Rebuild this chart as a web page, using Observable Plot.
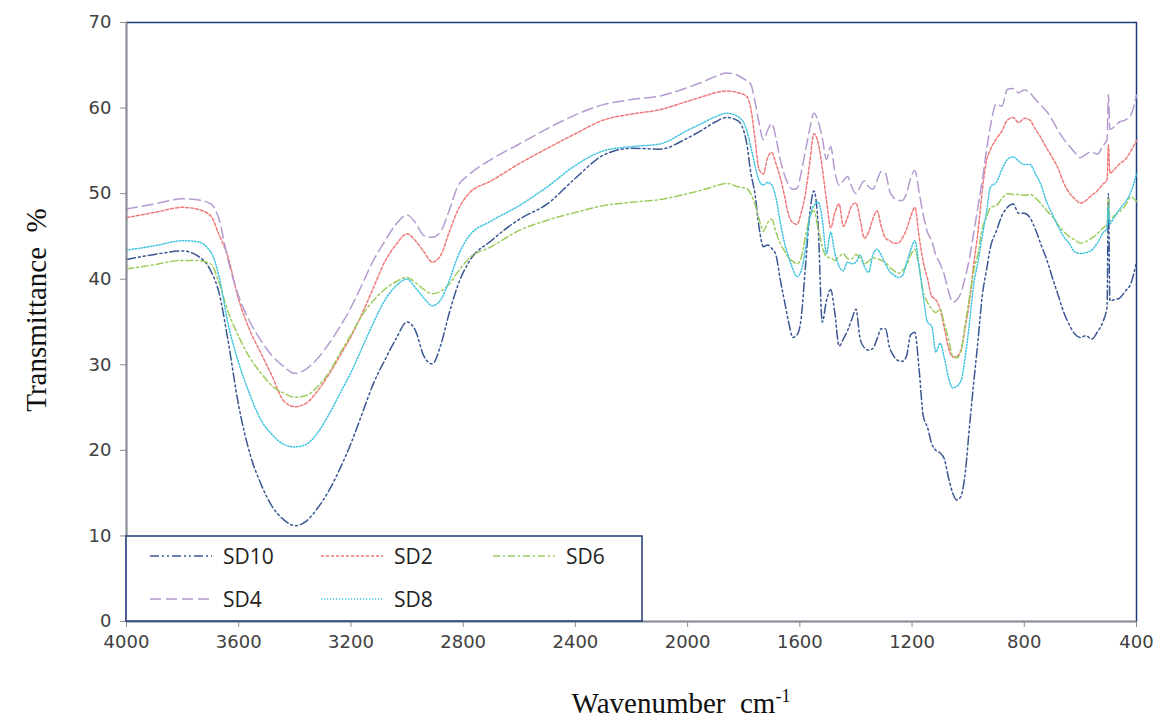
<!DOCTYPE html>
<html><head><meta charset="utf-8">
<script src="https://cdn.jsdelivr.net/npm/d3@7"></script>
<script src="https://cdn.jsdelivr.net/npm/@observablehq/plot@0.6"></script>
<style>
html,body{margin:0;padding:0;background:#fff;}
#chart{position:relative;width:1160px;height:718px;}
</style></head><body><div id="chart"></div>
<script>
const wavenumber = [4000,3900,3800,3750,3700,3670,3640,3600,3560,3520,3480,3440,3400,3360,3320,3280,3240,3200,3160,3120,3080,3040,3000,2970,2940,2910,2880,2850,2820,2780,2700,
2600,2500,2400,2300,2200,2100,2000,1950,1900,1860,1820,
1790,1775,1760,1745,1730,1715,1700,1685,1670,1655,1640,1625,1610,1595,1580,1565,1550,1535,1520,1505,1490,1475,1460,1445,1430,1415,1400,1385,1370,1355,1340,1325,1310,1295,1280,1265,1250,1235,1220,1205,1190,1175,1160,1145,1130,1115,1100,1085,1070,1055,1040,1025,1010,995,980,965,950,
935,920,900,880,860,840,820,800,780,760,740,720,700,680,660,640,620,600,580,560,540,520,505,500,495,480,460,440,420,400];

const SD10 = [42.3,42.9,43.3,42.8,41.0,38.4,33.2,25.2,19.6,16.0,13.4,11.9,11.2,11.7,13.2,15.2,17.8,20.8,24.3,27.8,30.5,33.0,35.0,34.0,31.0,30.1,32.3,36.0,39.2,42.0,44.5,
47.0,48.8,51.8,54.5,55.3,55.2,56.5,57.4,58.4,58.9,58.5,
56.0,52.5,50.0,46.0,43.8,44.0,43.6,42.8,40.0,37.5,35.0,33.2,33.5,35.5,41.5,47.5,50.3,46.5,35.0,37.5,38.8,36.0,32.2,33.0,34.0,35.3,36.5,33.0,32.0,31.7,31.9,33.0,34.2,34.2,32.0,31.0,30.5,30.4,31.0,33.5,33.8,29.5,24.0,22.7,20.8,20.0,19.7,19.0,16.8,15.0,14.2,14.7,17.5,22.9,28.0,32.8,38.0,
41.0,43.8,45.6,47.4,48.4,48.8,47.7,47.7,47.2,45.8,44.0,42.3,40.2,38.2,36.2,34.7,33.6,33.2,33.4,33.0,33.8,35.0,36.8,50.0,37.5,37.6,37.8,38.6,39.5,42.0];

const SD2 = [47.2,47.8,48.4,48.2,47.4,45.2,42.8,37.6,34.0,31.3,28.6,25.8,25.1,25.5,26.9,28.8,31.0,33.3,36.0,39.0,42.0,44.0,45.3,44.5,43.2,42.0,42.8,45.5,48.0,50.0,51.5,
53.5,55.3,57.0,58.6,59.3,59.8,60.8,61.3,61.8,62.0,61.8,
61.4,60.0,56.5,52.8,52.3,54.2,54.8,53.5,51.9,49.8,47.5,46.6,46.4,47.8,50.0,53.5,57.0,56.0,53.0,49.2,46.0,47.8,48.8,46.2,47.2,48.6,48.9,47.0,44.8,45.5,47.0,48.0,46.2,44.8,44.5,44.2,44.2,44.8,45.8,47.3,48.4,45.0,42.0,40.1,38.0,37.6,36.5,34.3,32.0,30.9,31.0,31.8,34.5,37.5,41.8,45.5,50.3,
53.8,55.2,56.4,57.3,58.6,58.9,58.3,58.8,58.6,57.5,56.5,55.3,54.2,53.0,51.3,50.1,49.4,48.9,49.2,49.8,50.3,51.1,51.6,55.7,52.4,52.8,53.5,54.0,55.0,56.2];

const SD6 = [41.2,41.7,42.2,42.2,41.8,39.6,36.4,33.3,30.8,29.0,27.5,26.7,26.2,26.4,27.4,29.0,31.3,33.5,35.8,37.5,38.8,39.7,40.2,39.6,38.8,38.3,38.6,39.4,40.8,42.4,43.8,
45.7,46.9,47.8,48.6,49.0,49.3,50.0,50.4,50.9,51.2,50.8,
50.6,50.0,48.8,47.0,45.6,46.6,47.0,45.5,44.2,43.3,42.5,42.1,41.8,42.5,45.0,47.2,48.0,46.0,43.8,42.6,42.5,42.2,42.6,43.0,42.4,42.4,42.9,42.5,41.8,42.1,42.5,42.4,42.2,42.0,41.4,41.0,40.7,41.0,41.6,42.8,43.5,41.5,38.5,37.3,36.5,36.1,36.5,34.8,33.0,31.0,30.8,31.7,34.8,38.0,41.0,43.0,45.9,
47.2,48.4,48.6,49.4,50.0,49.9,49.9,49.8,49.9,49.5,48.8,48.0,47.3,46.4,45.6,45.0,44.6,44.2,44.4,44.8,45.3,46.0,46.4,49.4,46.8,47.4,47.9,48.6,49.6,49.1];

const SD4 = [48.2,48.8,49.4,49.3,48.8,47.0,42.5,38.0,35.0,32.8,31.0,29.8,29.0,29.5,30.7,32.4,34.4,36.7,39.4,42.2,44.4,46.4,47.5,46.6,45.1,44.9,45.6,48.0,50.8,52.2,54.0,
55.8,57.6,59.2,60.4,61.0,61.4,62.4,63.0,63.7,64.1,63.8,
63.2,62.8,60.8,58.2,56.3,57.4,58.2,56.5,54.0,52.2,51.0,50.5,50.6,52.5,55.0,57.5,59.4,58.5,56.5,54.0,55.5,52.5,51.0,51.5,52.0,50.8,50.0,50.8,51.5,50.8,50.5,51.5,52.6,52.4,50.3,49.5,49.2,49.2,50.0,51.8,52.7,50.2,47.5,45.5,44.5,42.8,41.8,40.5,38.6,37.3,37.6,38.5,40.3,42.5,45.5,48.5,51.5,
55.0,58.0,60.5,60.2,62.2,62.3,61.8,62.1,61.8,61.0,60.3,59.6,58.6,57.4,56.4,55.6,54.8,54.2,54.6,54.9,54.6,55.6,56.3,61.6,57.5,57.8,58.4,58.6,59.2,61.5];

const SD8 = [43.4,43.9,44.5,44.4,43.2,40.3,35.1,30.2,26.5,23.5,21.8,20.7,20.4,20.7,22.0,24.1,26.6,29.1,32.0,34.9,37.5,39.2,40.0,39.0,37.8,36.9,37.6,39.8,42.6,45.0,46.8,
48.6,50.8,53.3,55.0,55.5,55.8,57.4,58.2,59.0,59.4,59.0,
57.5,55.5,53.3,51.5,51.0,51.3,51.0,49.5,46.7,44.3,42.6,41.2,40.3,41.0,43.5,47.2,48.6,49.0,47.0,43.0,45.5,43.0,41.5,41.0,42.0,41.8,42.0,42.8,41.5,40.8,42.8,43.5,42.8,41.8,40.9,40.5,40.2,40.4,41.8,43.4,44.5,41.5,38.0,35.0,34.5,31.5,32.5,30.8,28.5,27.3,27.5,28.2,31.0,35.0,39.5,42.0,45.0,
47.8,50.8,51.3,52.8,54.0,54.3,53.8,53.4,53.4,52.3,51.0,49.0,47.6,46.2,45.0,44.2,43.2,43.0,43.1,43.4,44.2,45.4,46.0,48.5,46.5,47.2,48.2,49.0,50.2,52.3];

const seriesNames = ["SD10", "SD2", "SD6", "SD4", "SD8"];
const seriesValues = [SD10, SD2, SD6, SD4, SD8];
const seriesColors = ["#3a5794", "#f07a7a", "#9dcc5e", "#b49bd0", "#3ec3e0"];
const seriesDash = ["9,3,2,3,2,3", "3,2", "7,3,2,3", "11,5", "1.2,1.8"];
const xTicks = [4000, 3600, 3200, 2800, 2400, 2000, 1600, 1200, 800, 400];
const yTicks = [0, 10, 20, 30, 40, 50, 60, 70];

const navy = "#1f3a7a";
const axisGray = "#8c8c8c";

const lineMarks = seriesNames.map((name, i) => {
  const rows = wavenumber.map((w, j) => ({w, v: seriesValues[i][j]}));
  return Plot.lineY(rows, {x: "w", y: "v", stroke: seriesColors[i], strokeWidth: 1.5,
    strokeDasharray: seriesDash[i], curve: "monotone-x"});
});

const chart = Plot.plot({
  width: 1160, height: 718,
  marginLeft: 126, marginRight: 24, marginTop: 22, marginBottom: 97,
  x: {domain: [4000, 400]},
  y: {domain: [0, 70]},
  style: {fontFamily: "'DejaVu Sans', sans-serif", fontSize: "18px", color: "#404040", background: "#fff"},
  marks: [
    Plot.frame({stroke: navy, strokeWidth: 1.5}),
    ...lineMarks,
    Plot.ruleX([4000], {stroke: axisGray, strokeWidth: 1.5}),
    Plot.ruleY([0], {stroke: axisGray, strokeWidth: 1.5}),
    Plot.axisX({ticks: xTicks, tickSize: 6, tickPadding: 8, label: null, stroke: axisGray, tickFormat: d => String(d)}),
    Plot.axisY({ticks: yTicks, tickSize: 6, tickPadding: 9, label: null, stroke: axisGray})
  ]
});

document.getElementById("chart").appendChild(chart);

const svg = d3.select(chart);

// Legend box in lower left of plot area
const lg = svg.append("g").attr("text-anchor", "start");
lg.append("rect").attr("x", 126).attr("y", 536).attr("width", 516).attr("height", 85)
  .attr("fill", "#fff").attr("stroke", navy).attr("stroke-width", 1.5);
const legendPos = [[150, 556], [321, 556], [493, 556], [150, 599], [321, 599]];
seriesNames.forEach((name, i) => {
  const [lx, ly] = legendPos[i];
  lg.append("line").attr("x1", lx).attr("x2", lx + 62).attr("y1", ly).attr("y2", ly)
    .attr("stroke", seriesColors[i]).attr("stroke-width", 1.5).attr("stroke-dasharray", seriesDash[i]);
  lg.append("text").attr("x", lx + 73).attr("y", ly).attr("dy", "0.36em").attr("text-anchor", "start")
    .attr("font-family", "'Open Sans', sans-serif").attr("font-size", 21).attr("fill", "#222").text(name);
});

// Axis titles
svg.append("text").attr("transform", "translate(46,310) rotate(-90)")
  .attr("text-anchor", "middle").attr("font-family", "'Liberation Serif', serif")
  .attr("font-size", 29).attr("fill", "#111").text("Transmittance  %");

const xt = svg.append("text").attr("x", 681).attr("y", 713).attr("text-anchor", "middle")
  .attr("font-family", "'Liberation Serif', serif").attr("font-size", 29).attr("fill", "#111");
xt.append("tspan").text("Wavenumber  cm");
xt.append("tspan").attr("dy", -11).attr("font-size", 18).text("-1");
</script>
</body></html>
